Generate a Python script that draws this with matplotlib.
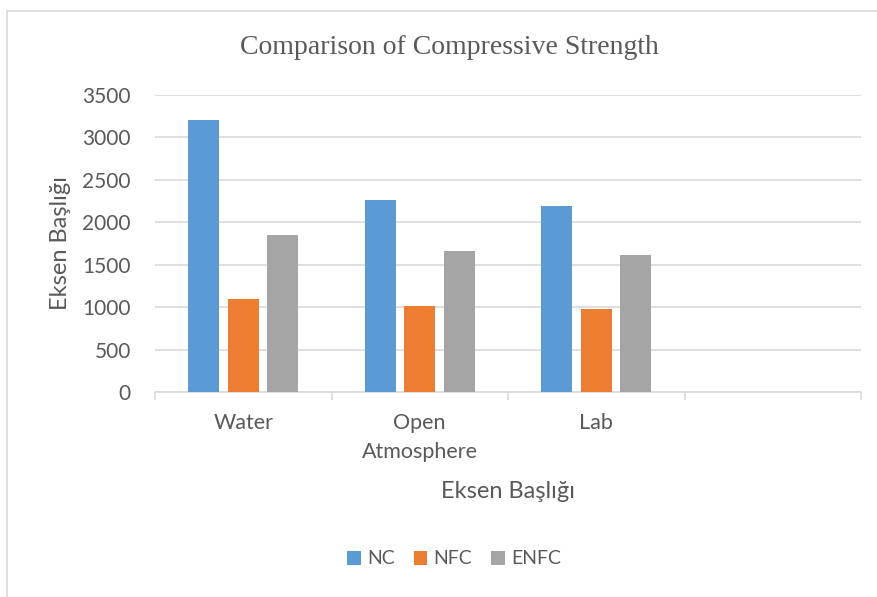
import matplotlib.pyplot as plt
import matplotlib.patches as mpatches
import numpy as np

# categories and series
categories = ["Water", "Open\nAtmosphere", "Lab", ""]
series_names = ["NC", "NFC", "ENFC"]
nc = [3205, 2260, 2195, np.nan]
nfc = [1095, 1010, 978, np.nan]
enfc = [1850, 1660, 1612, np.nan]
colors = ["#5B9BD5", "#ED7D31", "#A5A5A5"]

TEXT = "#595959"
GRID = "#D9D9D9"

fig = plt.figure(figsize=(8.77, 5.97), dpi=100, facecolor="white")

# chart area border
fig.patches.append(mpatches.Rectangle(
    (6.5 / 877, -0.01), 1.0, 1 - 10.5 / 597 + 0.01,
    transform=fig.transFigure, fill=False, edgecolor=GRID, linewidth=1.2))

ax = fig.add_axes([155 / 877, 1 - 392 / 597, (861 - 155) / 877, (392 - 95) / 597])

x = np.arange(len(categories))
width = 0.176
step = 0.224
for i, (vals, col, name) in enumerate(zip([nc, nfc, enfc], colors, series_names)):
    ax.bar(x + (i - 1) * step, vals, width=width, color=col, label=name, zorder=3)

ax.set_xlim(-0.5, len(categories) - 0.5)
ax.set_ylim(0, 3500)
ax.set_yticks(np.arange(0, 3501, 500))
ax.yaxis.grid(True, color=GRID, linewidth=1.2, zorder=0)
ax.set_axisbelow(True)

for s in ["top", "right", "left"]:
    ax.spines[s].set_visible(False)
ax.spines["bottom"].set_color(GRID)
ax.spines["bottom"].set_linewidth(1.2)

ax.set_xticks(x)
ax.set_xticklabels(categories, fontsize=15.5, color=TEXT, family="Lato", linespacing=1.55)
ax.tick_params(axis="x", which="major", length=0, pad=15)
ax.set_xticks(np.arange(-0.5, len(categories)), minor=True)
ax.tick_params(axis="x", which="minor", length=6, color=GRID, width=1.2)
ax.tick_params(axis="y", length=0, labelsize=15, labelcolor=TEXT, pad=17.5)
for lab in ax.get_yticklabels():
    lab.set_family("Lato")

ax.set_ylabel("Eksen Başlığı", fontsize=17, color=TEXT, family="Lato", labelpad=8)
ax.set_xlabel("Eksen Başlığı", fontsize=17, color=TEXT, family="Lato", labelpad=14)

fig.text(449 / 877, 1 - 47 / 597, "Comparison of Compressive Strength",
         ha="center", va="center", fontsize=20, color=TEXT, family="Liberation Serif")

fig.legend(loc="center", bbox_to_anchor=(454 / 877, 1 - 559 / 597), ncol=3,
           frameon=False, labelcolor=TEXT, handlelength=0.7,
           handleheight=0.7, handletextpad=0.3, columnspacing=1.0,
           prop={"family": "Lato", "size": 14})

fig.savefig("out.png", dpi=100, facecolor="white")
